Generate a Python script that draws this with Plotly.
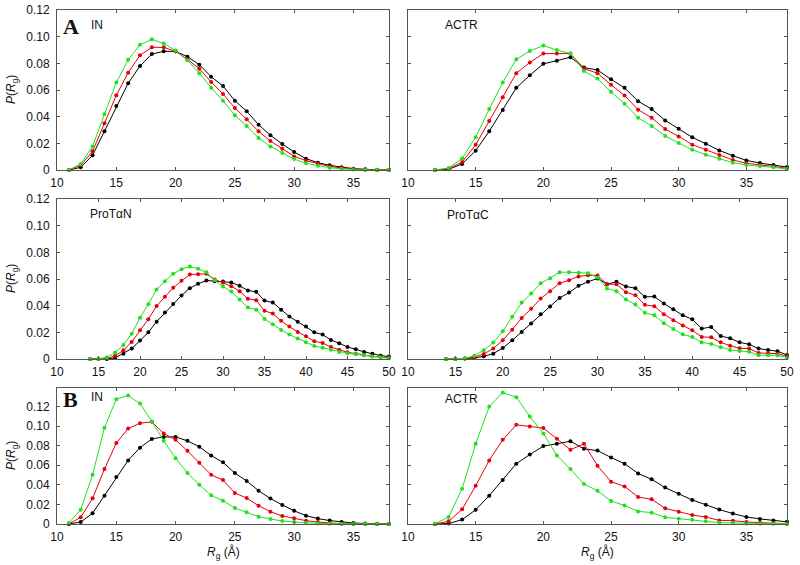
import plotly.graph_objects as go

# ---------------- data ----------------
x_in = list(range(11, 39))
in_black = [0, 0.002, 0.011, 0.029, 0.048, 0.065, 0.078, 0.087, 0.089, 0.089, 0.085, 0.079, 0.070, 0.063,
            0.052, 0.044, 0.034, 0.026, 0.0195, 0.0135, 0.0085, 0.0055, 0.0035, 0.002, 0.001, 0.0005, 0.0002, 0.0001]
in_red = [0, 0.0035, 0.014, 0.035, 0.056, 0.073, 0.086, 0.092, 0.092, 0.089, 0.083, 0.076, 0.066, 0.057,
          0.0465, 0.038, 0.029, 0.0217, 0.016, 0.0102, 0.007, 0.0047, 0.0027, 0.0015, 0.0007, 0.0003, 0.0, 0.0]
in_green = [0, 0.0045, 0.0177, 0.042, 0.0656, 0.0826, 0.094, 0.098, 0.0948, 0.0896, 0.0823, 0.0726, 0.0616, 0.052,
            0.041, 0.033, 0.024, 0.0177, 0.0127, 0.0082, 0.005, 0.0032, 0.0017, 0.0008, 0.0003, 0.0, 0.0, 0.0]

x_actr = list(range(12, 39))
actr_black = [0, 0.0005, 0.0045, 0.0145, 0.029, 0.045, 0.0616, 0.071, 0.0796, 0.082, 0.0846, 0.0768, 0.075, 0.068,
              0.0616, 0.0516, 0.0457, 0.0372, 0.031, 0.0245, 0.0197, 0.0147, 0.0107, 0.0072, 0.0052, 0.0037, 0.0022]
actr_red = [0, 0.001, 0.006, 0.019, 0.0367, 0.0546, 0.0726, 0.0806, 0.0873, 0.0873, 0.0873, 0.076, 0.0726, 0.0639,
            0.0559, 0.0452, 0.0392, 0.0307, 0.0252, 0.019, 0.0152, 0.0112, 0.0075, 0.005, 0.004, 0.0027, 0.0012]
actr_green = [0, 0.0015, 0.0087, 0.0245, 0.0457, 0.0656, 0.083, 0.0893, 0.0933, 0.090, 0.0873, 0.0743, 0.0686, 0.0586,
              0.0497, 0.0392, 0.033, 0.0255, 0.0202, 0.0152, 0.0115, 0.0085, 0.0055, 0.0037, 0.003, 0.002, 0.0007]

x_prot = list(range(14, 51))
protn_black = [0, 0, 0, 0.0008, 0.004, 0.0078, 0.0138, 0.020, 0.028, 0.0348, 0.0413, 0.0476, 0.0531, 0.0564, 0.0589,
               0.0584, 0.0581, 0.0574, 0.0549, 0.0514, 0.0504, 0.0438, 0.0423, 0.037, 0.0318, 0.028, 0.0243, 0.020,
               0.0183, 0.0143, 0.0118, 0.009, 0.0073, 0.0053, 0.004, 0.0025, 0.0018]
protn_red = [0, 0, 0.0005, 0.0023, 0.0065, 0.0128, 0.0215, 0.0298, 0.0398, 0.0466, 0.0534, 0.0586, 0.0634, 0.0636,
             0.0639, 0.0596, 0.0571, 0.0546, 0.0509, 0.0451, 0.0441, 0.0361, 0.0341, 0.0286, 0.0243, 0.0203, 0.017,
             0.0133, 0.012, 0.009, 0.007, 0.005, 0.004, 0.0028, 0.002, 0.0013, 0.001]
protn_green = [0, 0, 0.0013, 0.0048, 0.0105, 0.019, 0.031, 0.041, 0.0521, 0.0584, 0.0639, 0.0674, 0.0694, 0.0676,
               0.0651, 0.0591, 0.0544, 0.0506, 0.0446, 0.0386, 0.037, 0.030, 0.026, 0.0218, 0.0183, 0.0153, 0.0125,
               0.0098, 0.0085, 0.007, 0.0053, 0.0043, 0.0035, 0.0028, 0.0018, 0.0013, 0.0005]

protc_black = [0, 0, 0.0003, 0.0008, 0.002, 0.004, 0.0083, 0.014, 0.0203, 0.0266, 0.0336, 0.0393, 0.0458, 0.0498,
               0.0549, 0.0579, 0.0604, 0.0561, 0.0579, 0.0544, 0.0531, 0.0466, 0.0468, 0.0416, 0.0373, 0.0328,
               0.0298, 0.0228, 0.024, 0.0173, 0.0155, 0.0125, 0.011, 0.0078, 0.0068, 0.0058, 0.003]
protc_red = [0, 0, 0.0003, 0.0015, 0.0038, 0.0078, 0.014, 0.022, 0.0308, 0.0376, 0.0453, 0.0509, 0.0569, 0.0591,
             0.0619, 0.0629, 0.0626, 0.0561, 0.0561, 0.0501, 0.0478, 0.0406, 0.0396, 0.0336, 0.0291, 0.0251, 0.0215,
             0.0165, 0.0163, 0.0125, 0.010, 0.008, 0.0078, 0.0045, 0.0043, 0.004, 0.002]
protc_green = [0, 0, 0.0005, 0.0025, 0.0065, 0.0123, 0.0208, 0.0316, 0.0423, 0.0491, 0.0569, 0.0606, 0.0651, 0.0651,
               0.0646, 0.0644, 0.0611, 0.0529, 0.0509, 0.0446, 0.0408, 0.0346, 0.0328, 0.0268, 0.0225, 0.0185,
               0.0165, 0.0125, 0.0113, 0.0088, 0.0068, 0.006, 0.0055, 0.0028, 0.0028, 0.0028, 0.001]

inb_red = [0, 0.0068, 0.0262, 0.0561, 0.0827, 0.0976, 0.103, 0.1044, 0.0925, 0.086, 0.0748, 0.0626, 0.0503, 0.0449,
           0.0316, 0.0265, 0.0187, 0.0126, 0.0082, 0.0058, 0.0034, 0.002, 0.001, 0.0003, 0.0, 0.0, 0.0, 0.0]
inb_green = [0.001, 0.0146, 0.0503, 0.0983, 0.1276, 0.1313, 0.1231, 0.1048, 0.085, 0.0673, 0.052, 0.0401, 0.0293,
             0.0238, 0.0163, 0.0119, 0.0075, 0.0051, 0.0031, 0.002, 0.001, 0.0006, 0.0003, 0.0, 0.0, 0.0, 0.0, 0.0]

actrb_red = [0, 0.0027, 0.015, 0.0391, 0.065, 0.086, 0.1014, 0.0997, 0.098, 0.0871, 0.0759, 0.082, 0.0595, 0.0432,
             0.0384, 0.0276, 0.0252, 0.016, 0.0126, 0.0092, 0.0071, 0.0037, 0.0034, 0.002, 0.0014, 0.001, 0.0003]
actrb_green = [0.0003, 0.0071, 0.0361, 0.082, 0.120, 0.1343, 0.1296, 0.1099, 0.0925, 0.0701, 0.0561, 0.0408, 0.034,
               0.0235, 0.019, 0.0129, 0.0116, 0.0068, 0.0054, 0.0044, 0.0027, 0.0014, 0.001, 0.0006, 0.0003, 0.0003, 0.0003]

y_ticks_a = [0, 0.02, 0.04, 0.06, 0.08, 0.10, 0.12]
y_ticklabels_a = ["0", "0.02", "0.04", "0.06", "0.08", "0.10", "0.12"]

# ---------------- figure ----------------
W, H = 800, 565
BLACK, RED, GREEN = "#000000", "#e8000b", "#22e01e"

panels = [
    (x_in, [in_black, in_red, in_green], [10, 38], [0, 0.12], (57, 389), (10, 170), True, [10, 15, 20, 25, 30, 35]),
    (x_actr, [actr_black, actr_red, actr_green], [10, 38], [0, 0.12], (408, 787), (10, 170), False, [10, 15, 20, 25, 30, 35]),
    (x_prot, [protn_black, protn_red, protn_green], [10, 50], [0, 0.12], (57, 389), (199, 359), True, [10, 15, 20, 25, 30, 35, 40, 45, 50]),
    (x_prot, [protc_black, protc_red, protc_green], [10, 50], [0, 0.12], (408, 787), (199, 359), False, [10, 15, 20, 25, 30, 35, 40, 45, 50]),
    (x_in, [in_black, inb_red, inb_green], [10, 38], [0, 0.139], (57, 389), (388, 524), True, [10, 15, 20, 25, 30, 35]),
    (x_actr, [actr_black, actrb_red, actrb_green], [10, 38], [0, 0.139], (408, 787), (388, 524), False, [10, 15, 20, 25, 30, 35]),
]

fig = go.Figure()
layout = {}
FONT = "Liberation Sans"
SERIF = "Liberation Serif"
for i, (xs, series, xr, yr, xd, yd, showy, xt) in enumerate(panels):
    n = i + 1
    xa = "x" if n == 1 else f"x{n}"
    ya = "y" if n == 1 else f"y{n}"
    for ys, col in zip(series, [BLACK, RED, GREEN]):
        fig.add_trace(go.Scatter(x=xs, y=ys, xaxis=xa, yaxis=ya, mode="lines+markers",
                                 line=dict(color=col, width=1),
                                 marker=dict(color=col, size=4, symbol="circle"),
                                 showlegend=False, cliponaxis=False, hoverinfo="skip"))
    common = dict(showline=True, mirror="ticks", linecolor="#555555", linewidth=1,
                  ticks="inside", ticklen=3, tickcolor="#555555", showgrid=False, zeroline=False,
                  automargin=False,
                  tickfont=dict(family=FONT, size=12, color="#111111"))
    layout[f"xaxis{n if n > 1 else ''}"] = dict(
        domain=[xd[0] / W, xd[1] / W], range=xr, anchor=ya, tickvals=xt, ticklabelstandoff=2, **common)
    layout[f"yaxis{n if n > 1 else ''}"] = dict(
        domain=[1 - yd[1] / H, 1 - yd[0] / H], range=yr, anchor=xa, ticklabelstandoff=4,
        tickvals=y_ticks_a, ticktext=y_ticklabels_a, showticklabels=showy, **common)

fig.update_layout(**layout)
fig.update_layout(width=W, height=H, margin=dict(l=0, r=0, t=0, b=0, autoexpand=False),
                  template="none",
                  paper_bgcolor="white", plot_bgcolor="white",
                  font=dict(family=FONT, size=12, color="#111111"))

ann = []
def txt(x, y, s, size=12, family=FONT):
    ann.append(dict(x=x / W, y=1 - y / H, xref="paper", yref="paper", text=s, showarrow=False,
                    xanchor="left", yanchor="middle", font=dict(size=size, family=family, color="#111111")))

txt(61, 27, "<b>A</b>", size=22, family=SERIF)
txt(89, 25, "IN")
txt(443, 25, "ACTR")
txt(88, 214, "ProTαN")
txt(445, 215, "ProTαC")
txt(61, 399, "<b>B</b>", size=22, family=SERIF)
txt(89, 397, "IN")
txt(443, 399, "ACTR")

for yc in [90, 279, 456]:
    ann.append(dict(x=12 / W, y=1 - yc / H, xref="paper", yref="paper", text="<i>P</i>(<i>R</i><sub>g</sub>)",
                    showarrow=False, textangle=-90, xanchor="center", yanchor="middle",
                    font=dict(size=12, family=FONT, color="#111111")))
for xc in [223, 597]:
    ann.append(dict(x=xc / W, y=1 - 552 / H, xref="paper", yref="paper", text="<i>R</i><sub>g</sub> (Å)",
                    showarrow=False, xanchor="center", yanchor="middle",
                    font=dict(size=12, family=FONT, color="#111111")))
fig.update_layout(annotations=ann)

fig.write_html("out.html", config={"displayModeBar": False},
               post_script="document.body.style.margin='0';document.body.style.padding='0';document.body.style.overflow='hidden';")
